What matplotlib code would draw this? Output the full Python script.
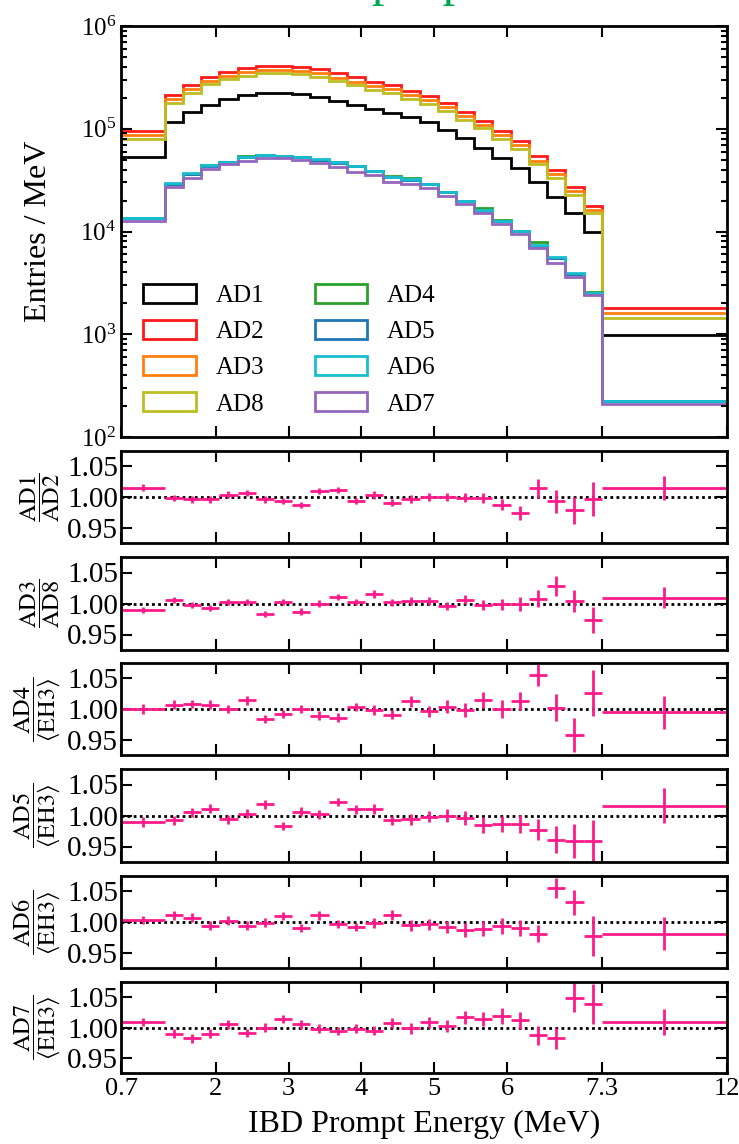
#!/usr/bin/env python3
"""Prompt spectra of the eight ADs with ratio panels underneath."""

import matplotlib

matplotlib.use("Agg")
import matplotlib.pyplot as plt
import numpy as np
from matplotlib.patches import Patch
from matplotlib.ticker import LogLocator, NullFormatter

plt.rcParams["font.family"] = ["Liberation Serif", "DejaVu Serif"]
plt.rcParams["mathtext.fontset"] = "stix"

# Energy binning (MeV)
BIN_EDGES = [0.7, 1.3, 1.55, 1.8, 2.05, 2.3, 2.55, 2.8, 3.05, 3.3, 3.55,
             3.8, 4.05, 4.3, 4.55, 4.8, 5.05, 5.3, 5.55, 5.8, 6.05, 6.3,
             6.55, 6.8, 7.05, 7.3, 12.0]
X_TICKS = [0.7, 2, 3, 4, 5, 6, 7.3, 12]
X_TICK_LABELS = ["0.7", "2", "3", "4", "5", "6", "7.3", "12"]

# Entries / MeV per AD
AD1 = [5.35e4, 1.17e5, 1.47e5, 1.70e5, 1.94e5, 2.13e5, 2.24e5, 2.24e5,
       2.18e5, 2.05e5, 1.87e5, 1.70e5, 1.57e5, 1.41e5, 1.29e5, 1.17e5,
       9.7e4, 8.07e4, 6.45e4, 5.16e4, 4.12e4, 3.05e4, 2.18e4, 1.50e4,
       9.96e3, 985]
AD2 = [9.57e4, 2.13e5, 2.67e5, 3.21e5, 3.59e5, 3.90e5, 4.11e5, 4.11e5,
       4.02e5, 3.84e5, 3.46e5, 3.16e5, 2.84e5, 2.67e5, 2.33e5, 2.10e5,
       1.79e5, 1.47e5, 1.20e5, 9.57e4, 7.6e4, 5.4e4, 3.95e4, 2.7e4,
       1.78e4, 1.79e3]
AD3 = [8.7e4, 1.94e5, 2.43e5, 2.92e5, 3.27e5, 3.55e5, 3.74e5, 3.74e5,
       3.66e5, 3.49e5, 3.15e5, 2.88e5, 2.58e5, 2.43e5, 2.12e5, 1.91e5,
       1.63e5, 1.34e5, 1.09e5, 8.7e4, 6.9e4, 4.9e4, 3.6e4, 2.46e4,
       1.62e4, 1.60e3]
AD8 = [8.0e4, 1.79e5, 2.24e5, 2.70e5, 3.02e5, 3.28e5, 3.45e5, 3.45e5,
       3.38e5, 3.22e5, 2.91e5, 2.65e5, 2.39e5, 2.24e5, 1.96e5, 1.76e5,
       1.50e5, 1.23e5, 1.01e5, 8.0e4, 6.4e4, 4.5e4, 3.3e4, 2.27e4,
       1.52e4, 1.43e3]
AD4 = [1.35e4, 2.92e4, 3.66e4, 4.40e4, 4.80e4, 5.45e4, 5.58e4, 5.48e4,
       5.34e4, 5.02e4, 4.70e4, 4.35e4, 3.88e4, 3.44e4, 3.28e4, 2.90e4,
       2.42e4, 1.99e4, 1.68e4, 1.29e4, 1.02e4, 7.96e3, 5.5e3, 3.9e3,
       2.56e3, 222]
AD5 = [1.34e4, 2.90e4, 3.62e4, 4.36e4, 4.74e4, 5.30e4, 5.50e4, 5.42e4,
       5.32e4, 5.00e4, 4.66e4, 4.32e4, 3.84e4, 3.40e4, 3.20e4, 2.87e4,
       2.42e4, 1.97e4, 1.60e4, 1.26e4, 1.01e4, 7.3e3, 5.48e3, 3.85e3,
       2.48e3, 224]
AD6 = [1.36e4, 2.94e4, 3.68e4, 4.41e4, 4.78e4, 5.36e4, 5.56e4, 5.47e4,
       5.36e4, 5.05e4, 4.71e4, 4.37e4, 3.87e4, 3.42e4, 3.24e4, 2.90e4,
       2.44e4, 1.99e4, 1.62e4, 1.27e4, 1.02e4, 7.4e3, 5.6e3, 3.92e3,
       2.50e3, 226]
AD7 = [1.26e4, 2.69e4, 3.34e4, 4.06e4, 4.51e4, 4.90e4, 5.16e4, 5.16e4,
       4.97e4, 4.61e4, 4.27e4, 3.82e4, 3.55e4, 3.05e4, 2.90e4, 2.67e4,
       2.21e4, 1.84e4, 1.50e4, 1.18e4, 9.4e3, 6.86e3, 4.9e3, 3.63e3,
       2.41e3, 208]

# Ratios and their errors
R_AD1_AD2 = [1.015, 0.999, 0.996, 0.996, 1.004, 1.006, 0.996, 0.993, 0.987,
             1.010, 1.012, 0.994, 1.003, 0.991, 0.997, 1.000, 1.000, 0.999,
             0.999, 0.987, 0.974, 1.014, 0.993, 0.978, 0.997, 1.015]
E_AD1_AD2 = [0.006, 0.005, 0.005, 0.005, 0.005, 0.005, 0.005, 0.005, 0.005,
             0.005, 0.005, 0.005, 0.006, 0.006, 0.006, 0.006, 0.007, 0.007,
             0.008, 0.009, 0.011, 0.016, 0.019, 0.022, 0.028, 0.020]
R_AD3_AD8 = [0.989, 1.006, 0.998, 0.993, 1.002, 1.003, 0.983, 1.003, 0.987,
             1.000, 1.011, 1.002, 1.015, 1.002, 1.004, 1.004, 0.996, 1.006,
             0.997, 0.999, 0.999, 1.008, 1.028, 1.004, 0.973, 1.009]
E_AD3_AD8 = [0.005, 0.005, 0.005, 0.005, 0.005, 0.005, 0.005, 0.005, 0.005,
             0.005, 0.005, 0.005, 0.006, 0.006, 0.006, 0.006, 0.007, 0.007,
             0.008, 0.009, 0.011, 0.013, 0.016, 0.018, 0.021, 0.017]
R_AD4 = [1.000, 1.007, 1.008, 1.007, 1.000, 1.014, 0.984, 0.992, 1.000,
         0.989, 0.986, 1.003, 0.998, 0.991, 1.013, 0.996, 1.004, 0.998,
         1.014, 1.000, 1.013, 1.056, 1.002, 0.958, 1.026, 0.995]
E_AD4 = [0.008, 0.007, 0.007, 0.007, 0.007, 0.007, 0.007, 0.007, 0.007,
         0.007, 0.007, 0.007, 0.008, 0.008, 0.009, 0.009, 0.010, 0.011,
         0.013, 0.014, 0.014, 0.018, 0.022, 0.028, 0.037, 0.027]
R_AD5 = [0.989, 0.992, 1.005, 1.011, 0.994, 1.003, 1.018, 0.983, 1.006,
         1.002, 1.022, 1.010, 1.010, 0.992, 0.994, 0.998, 1.000, 0.996,
         0.985, 0.987, 0.986, 0.977, 0.961, 0.959, 0.959, 1.016]
E_AD5 = [0.008, 0.007, 0.007, 0.007, 0.007, 0.007, 0.007, 0.007, 0.007,
         0.007, 0.007, 0.007, 0.008, 0.008, 0.009, 0.009, 0.010, 0.011,
         0.013, 0.013, 0.015, 0.017, 0.022, 0.028, 0.033, 0.028]
R_AD6 = [1.003, 1.011, 1.007, 0.994, 1.002, 0.994, 0.999, 1.010, 0.990,
         1.011, 0.997, 0.992, 0.999, 1.011, 0.995, 0.996, 0.992, 0.987,
         0.989, 0.994, 0.990, 0.981, 1.055, 1.032, 0.977, 0.981]
E_AD6 = [0.007, 0.007, 0.007, 0.007, 0.007, 0.007, 0.007, 0.007, 0.007,
         0.007, 0.007, 0.007, 0.008, 0.008, 0.009, 0.009, 0.010, 0.011,
         0.012, 0.013, 0.013, 0.014, 0.016, 0.020, 0.033, 0.027]
R_AD7 = [1.009, 0.990, 0.982, 0.990, 1.005, 0.991, 1.000, 1.014, 1.005,
         0.998, 0.994, 0.998, 0.995, 1.007, 0.999, 1.009, 1.003, 1.017,
         1.014, 1.019, 1.012, 0.987, 0.982, 1.049, 1.038, 1.009]
E_AD7 = [0.007, 0.007, 0.007, 0.007, 0.007, 0.007, 0.007, 0.007, 0.007,
         0.007, 0.007, 0.007, 0.008, 0.008, 0.009, 0.009, 0.010, 0.011,
         0.012, 0.013, 0.014, 0.016, 0.018, 0.024, 0.033, 0.022]

RATIO_LABELS = [
    r"$\dfrac{\mathrm{AD1}}{\mathrm{AD2}}$",
    r"$\dfrac{\mathrm{AD3}}{\mathrm{AD8}}$",
    r"$\dfrac{\mathrm{AD4}}{\langle\mathrm{EH3}\rangle}$",
    r"$\dfrac{\mathrm{AD5}}{\langle\mathrm{EH3}\rangle}$",
    r"$\dfrac{\mathrm{AD6}}{\langle\mathrm{EH3}\rangle}$",
    r"$\dfrac{\mathrm{AD7}}{\langle\mathrm{EH3}\rangle}$",
]

SPECTRA = [
    ("AD1", AD1, "black"),
    ("AD2", AD2, "#ff1a1a"),
    ("AD3", AD3, "#ff7f0e"),
    ("AD8", AD8, "#bcbd22"),
    ("AD4", AD4, "#2ca02c"),
    ("AD5", AD5, "#1f77b4"),
    ("AD6", AD6, "#17becf"),
    ("AD7", AD7, "#9467bd"),
]
RATIOS = [
    (R_AD1_AD2, E_AD1_AD2),
    (R_AD3_AD8, E_AD3_AD8),
    (R_AD4, E_AD4),
    (R_AD5, E_AD5),
    (R_AD6, E_AD6),
    (R_AD7, E_AD7),
]
PINK = "#ff1a8c"

# the 7.3-12 MeV bin is drawn squeezed
BREAK = 7.3
SQUEEZE = 0.366

W, H = 739, 1144


def fwd(x):
    x = np.asarray(x, dtype=float)
    return np.where(x <= BREAK, x, BREAK + (x - BREAK) * SQUEEZE)


def inv(u):
    u = np.asarray(u, dtype=float)
    return np.where(u <= BREAK, u, BREAK + (u - BREAK) / SQUEEZE)


def px_rect(left, top, right, bottom):
    return [left / W, 1 - bottom / H, (right - left) / W, (bottom - top) / H]


def style_axes(ax):
    ax.set_xscale("function", functions=(fwd, inv))
    ax.set_xlim(BIN_EDGES[0], BIN_EDGES[-1])
    ax.set_xticks(X_TICKS)
    ax.set_xticklabels(X_TICK_LABELS)
    ax.tick_params(which="both", direction="in", top=True, right=True,
                   labelsize=19, width=1.5)
    ax.tick_params(which="major", length=8)
    ax.tick_params(which="minor", length=4)
    for sp in ax.spines.values():
        sp.set_linewidth(2)


def main():
    fig = plt.figure(figsize=(W / 100, H / 100), dpi=100)
    edges = np.array(BIN_EDGES)
    centers = 0.5 * (edges[1:] + edges[:-1])
    halfw = 0.5 * (edges[1:] - edges[:-1])

    # spectra
    ax = fig.add_axes(px_rect(121, 26, 727, 437))
    style_axes(ax)
    ax.set_yscale("log")
    ax.set_ylim(1e2, 1e6)
    ax.yaxis.set_major_locator(LogLocator(base=10, numticks=10))
    ax.yaxis.set_minor_locator(LogLocator(base=10, subs=np.arange(2, 10),
                                          numticks=10))
    ax.yaxis.set_minor_formatter(NullFormatter())
    ax.tick_params(axis="y", labelsize=18)
    ax.tick_params(axis="x", labelbottom=False)
    handles = []
    for name, vals, color in SPECTRA:
        ax.stairs(vals, edges, baseline=None, color=color, lw=2)
        handles.append(Patch(facecolor="none", edgecolor=color, lw=2,
                             label=name))
    ax.legend(handles=handles, ncol=2, loc="upper left",
              bbox_to_anchor=(0.037, 0.372), frameon=False, fontsize=18,
              handlelength=2.1, handleheight=0.78, handletextpad=0.8,
              columnspacing=2.0, labelspacing=0.52, borderpad=0,
              borderaxespad=0)
    ax.set_ylabel("Entries / MeV", fontsize=23)
    ax.yaxis.set_label_coords(-0.112, 0.5)

    # ratio panels
    panels = [(451, 543), (557, 650), (663, 755), (769, 862), (876, 968),
              (982, 1073)]
    for i, ((top, bottom), (r, e), label) in enumerate(
            zip(panels, RATIOS, RATIO_LABELS)):
        rax = fig.add_axes(px_rect(121, top, 727, bottom))
        style_axes(rax)
        rax.set_ylim(0.925, 1.075)
        rax.set_yticks([0.95, 1.00, 1.05])
        rax.set_yticklabels(["0.95", "1.00", "1.05"])
        rax.tick_params(axis="y", labelsize=21, pad=2)
        rax.axhline(1.0, color="black", ls=(0, (1, 1.2)), lw=2, zorder=1)
        rax.errorbar(centers, r, xerr=halfw, yerr=e, fmt="none",
                     ecolor=PINK, elinewidth=2, capsize=0, zorder=2)
        rax.set_ylabel(label, fontsize=17.5)
        rax.yaxis.set_label_coords(-0.097, 0.5)
        if i < len(panels) - 1:
            rax.tick_params(axis="x", labelbottom=False)
        else:
            rax.set_xlabel("IBD Prompt Energy (MeV)", fontsize=23,
                           labelpad=7)

    # title cut off by the frame, only the descenders remain
    fig.text(264 / W, 1.0 + 5 / H, "Prompt spectra", color="#00a651",
             fontsize=36, ha="left", va="baseline")

    fig.savefig("out.png", dpi=100)


if __name__ == "__main__":
    main()
